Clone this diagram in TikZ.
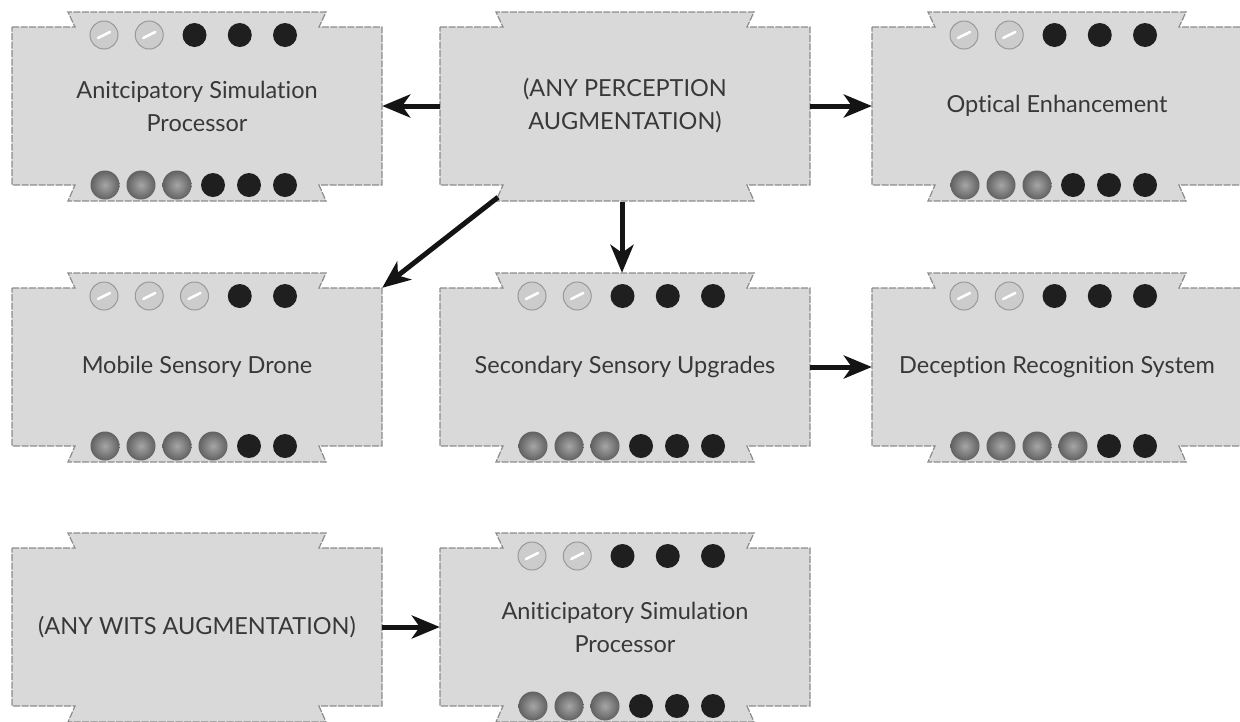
\documentclass[tikz,border=0pt]{standalone}
\usepackage{fontspec}
\usetikzlibrary{arrows.meta,calc}
\newfontfamily\lblfont[Ligatures=NoCommon]{Lato}
\tikzset{
  boxshape/.style={fill=black!15, draw=black!45, line width=1.2pt, dash pattern=on 7pt off 1.5pt},
  boxnode/.style={rectangle, minimum width=370pt, minimum height=158pt, inner sep=0pt, align=center,
    font=\lblfont\fontsize{23.5}{33}\selectfont, text=black!78},
  topgrey/.style={fill=black!20, draw=black!40, line width=1pt},
  shine/.style={white, line width=2.5pt, line cap=round},
  blackdot/.style={fill=black!88},
  conn/.style={line width=5pt, black!92, -{Stealth[length=28pt,width=23pt,inset=8pt]}},
}
\newcommand{\gearbox}[4]{%
  \path[boxshape] (#2-185,#3-79) -- (#2-122,#3-79) -- (#2-129,#3-94) -- (#2+129,#3-94) -- (#2+122,#3-79) -- (#2+185,#3-79) -- (#2+185,#3+79) -- (#2+122,#3+79) -- (#2+129,#3+95) -- (#2-129,#3+95) -- (#2-122,#3+79) -- (#2-185,#3+79) -- cycle;
  \node[boxnode] (#1) at (#2,#3) {#4};
}
\newcommand{\topdots}[3]{%
  \foreach \i in {0,...,4}{%
    \pgfmathsetmacro{\dx}{#1-93+45.25*\i}%
    \ifnum\i<#3\relax
      \draw[topgrey] (\dx,#2-71) circle[radius=14pt];
      \draw[shine] (\dx-6,#2-71+3) -- (\dx+6,#2-71-3);
    \else
      \fill[blackdot] (\dx,#2-71) circle[radius=12pt];
    \fi
  }}
\newcommand{\botdots}[3]{%
  \foreach \i in {0,...,5}{%
    \pgfmathsetmacro{\dx}{#1-92+36*\i}%
    \ifnum\i<#3\relax
      \shade[inner color=black!35, outer color=black!62] (\dx,#2+79) circle[radius=14.5pt];
    \else
      \fill[blackdot] (\dx,#2+79) circle[radius=12pt];
    \fi
  }}
\begin{document}
\begin{tikzpicture}[x=1pt,y=-1pt]
\useasboundingbox (0,0) rectangle (1240,721);
\fill[white] (0,0) rectangle (1240,721);
% boxes
\gearbox{b1}{197}{106}{Anitcipatory Simulation\\Processor}
\gearbox{b2}{625}{106}{(ANY PERCEPTION\\AUGMENTATION)}
\gearbox{b3}{1057}{106}{Optical Enhancement}
\gearbox{b4}{197}{367}{Mobile Sensory Drone}
\gearbox{b5}{625}{367}{Secondary Sensory Upgrades}
\gearbox{b6}{1057}{367}{Deception Recognition System}
\gearbox{b7}{197}{627}{(ANY WITS AUGMENTATION)}
\gearbox{b8}{625}{627}{Aniticipatory Simulation\\Processor}
% dots
\topdots{197}{106}{2}\botdots{197}{106}{3}
\topdots{1057}{106}{2}\botdots{1057}{106}{3}
\topdots{197}{367}{3}\botdots{197}{367}{4}
\topdots{625}{367}{2}\botdots{625}{367}{3}
\topdots{1057}{367}{2}\botdots{1057}{367}{4}
\topdots{625}{627}{2}\botdots{625}{627}{3}
% connectors
\draw[conn] (b2.west) -- (b1.east);
\draw[conn] (b2.east) -- (b3.west);
\draw[conn] ($(b2.south)+(-127,12)$) -- (b4.north east);
\draw[conn] ($(b2.south)+(-3,17)$) -- ($(b5.north)+(-3,-15)$);
\draw[conn] (b5.east) -- (b6.west);
\draw[conn] (b7.east) -- (b8.west);
\end{tikzpicture}
\end{document}
